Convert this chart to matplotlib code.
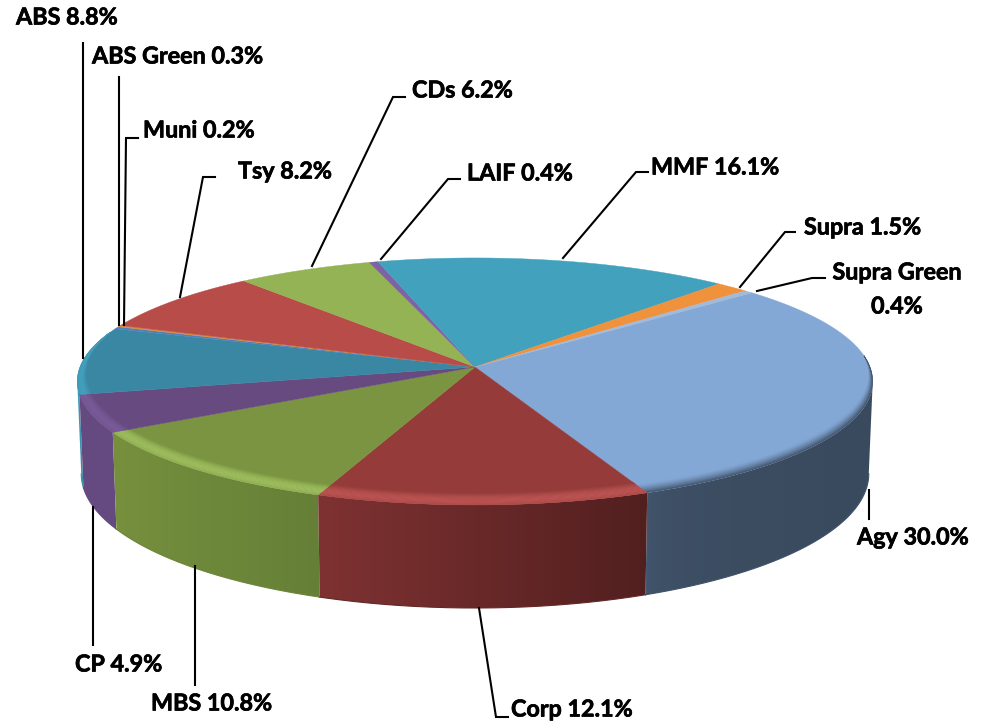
import numpy as np
import matplotlib
matplotlib.use("Agg")
import matplotlib.pyplot as plt
import matplotlib.patheffects as pe
from matplotlib.colors import to_rgb
from matplotlib.patches import Polygon

categories = ["Agy", "Corp", "MBS", "CP", "ABS", "ABS Green", "Muni", "Tsy",
              "CDs", "LAIF", "MMF", "Supra", "Supra Green"]
values = [30.0, 12.1, 10.8, 4.9, 8.8, 0.3, 0.2, 8.2, 6.2, 0.4, 16.1, 1.5, 0.4]
top_colors = ["#84A8D6", "#953C3A", "#7A9441", "#674A80", "#3A87A3", "#4F81BD", "#D98A3C",
              "#B84C49", "#94B355", "#7F62A3", "#42A2BD", "#F0913C", "#A3B9D8"]
side_left = ["#4A617C", "#7F3232", "#76903E", "#654A80", "#3FA0BC", None, None,
             None, None, None, None, None, None]
side_right = ["#3A4A5E", "#521F1F", "#657F37", "#654A80", "#3A87A3", None, None,
              None, None, None, None, None, None]
rim_colors = ["#3A4A5E", "#C45A58", "#A6C765", "#7E5FA0", "#45A8C4", None, None,
              None, None, None, None, None, None]
rim_onset = [0.1, 0.3, 0.3, 0.3, 0.3, 0, 0, 0, 0, 0, 0, 0, 0]

# Chart geometry (pixel space of the figure)
FIG_W, FIG_H = 986, 722
CX, CY, RX, RY, PERSP, DEPTH = 475, 367, 395, 121.8, 0.117, 91
START_ANGLE = 41.0
BEVEL = 0.08

plt.rcParams["font.family"] = ["Lato", "DejaVu Sans"]
fig = plt.figure(figsize=(FIG_W / 100, FIG_H / 100), dpi=100)
ax = fig.add_axes([0, 0, 1, 1])


def project(theta_deg, r=1.0, lower=False):
    th = np.radians(theta_deg)
    u, v = r * np.cos(th), r * np.sin(th)
    s = 1 / (1 + PERSP * v)
    if lower:
        return CX + 0.99 * RX * u * s, CY - RY * v * s + DEPTH * s
    return CX + RX * u * s, CY - RY * v * s


def mix(a, b, t):
    a, b = np.array(to_rgb(a)), np.array(to_rgb(b))
    return a + (b - a) * t


vals = np.array(values)
sweeps = vals / vals.sum() * 360
ends = START_ANGLE - np.cumsum(sweeps)
starts = ends + sweeps

# Sides: far slices first, each a horizontal gradient clipped to its outline
side_ids = [i for i in range(len(vals)) if side_left[i] is not None]
side_ids.sort(key=lambda i: -np.sin(np.radians(0.5 * (starts[i] + ends[i]))))
for i in side_ids:
    th = np.linspace(starts[i], ends[i], 300)
    th = th[np.sin(np.radians(th)) < -PERSP]
    xt, yt = project(th)
    xb, yb = project(th, lower=True)
    px = np.r_[xt, xb[::-1]]
    py = np.r_[yt, yb[::-1]]
    xmin, xmax = px.min(), px.max()
    t = np.linspace(0, 1, 256)
    w = t ** 0.14 if i == 0 else t
    grad = np.array([[mix(side_left[i], side_right[i], a) for a in w]])
    im = ax.imshow(grad, extent=(xmin, xmax, py.max(), py.min()), aspect="auto", zorder=2)
    im.set_clip_path(Polygon(np.c_[px, py], closed=True, transform=ax.transData))
    ax.plot(xb, yb, color=mix(side_left[i], side_right[i], 0.6), lw=0.8, zorder=2)

ax.set_xlim(0, FIG_W)
ax.set_ylim(FIG_H, 0)
ax.axis("off")

# Top faces
for i in range(len(vals)):
    th = np.linspace(starts[i], ends[i], max(4, int(abs(sweeps[i]) * 2)))
    x, y = project(th)
    ax.fill(np.r_[CX, x], np.r_[CY, y], facecolor=top_colors[i],
            edgecolor=top_colors[i], lw=0.3, zorder=3)

# Bevel along the near rim
levels = np.linspace(0, 1, 15)
for i in range(len(vals)):
    if rim_colors[i] is None:
        continue
    th = np.linspace(starts[i], ends[i], max(6, int(abs(sweeps[i]) * 2)))
    th = th[np.sin(np.radians(th)) < rim_onset[i]]
    w = BEVEL * (rim_onset[i] - np.sin(np.radians(th))) / 1.3
    for k in range(len(levels) - 1):
        d0, d1 = 1 - levels[k], 1 - levels[k + 1]
        t = levels[k]
        weight = t ** 1.5 if i == 0 else 0.85 * np.sin(np.pi * t * 0.8)
        x0, y0 = project(th, 1 - w * d0)
        x1, y1 = project(th, 1 - w * d1)
        ax.fill(np.r_[x0, x1[::-1]], np.r_[y0, y1[::-1]],
                color=mix(top_colors[i], rim_colors[i], weight), lw=0.2, zorder=4)

# Labels
def label(i):
    return f"{categories[i]} {values[i]:.1f}%"


label_style = dict(fontsize=16.8, fontweight="bold", color="black", va="center", zorder=6,
                   path_effects=[pe.withStroke(linewidth=0.5, foreground="black")])
label_pos = {0: (857, 538), 1: (511, 710), 2: (151, 704), 3: (75, 665), 4: (16, 18), 5: (92, 57),
             6: (143, 131), 7: (238, 172), 8: (412, 91), 9: (467, 174), 10: (651, 168), 11: (804, 228)}
for i, (px, py) in label_pos.items():
    ax.text(px, py, label(i), ha="left", **label_style)
ax.text(897, 273, categories[12], ha="center", **label_style)
ax.text(897, 307, f"{values[12]:.1f}%", ha="center", **label_style)

# Leader lines
leaders = [
    [(869, 490), (869, 519)],
    [(479, 608), (496, 717), (508, 717)],
    [(195, 566), (195, 685)],
    [(93, 507), (93, 645)],
    [(83, 43), (83, 358)],
    [(119, 77), (119, 325)],
    [(138, 138), (126, 138), (124, 325)],
    [(215, 177), (203, 177), (180, 297)],
    [(405, 97), (393, 97), (312, 266)],
    [(460, 179), (448, 179), (381, 259)],
    [(648, 172), (636, 172), (563, 258)],
    [(795, 232), (785, 232), (740, 287)],
    [(825, 278), (812, 278), (757, 291)],
]
for pts in leaders:
    xs, ys = zip(*pts)
    ax.plot(xs, ys, color="black", lw=1.5, solid_joinstyle="miter", zorder=5)

fig.savefig("out.png", dpi=100, facecolor="white")
